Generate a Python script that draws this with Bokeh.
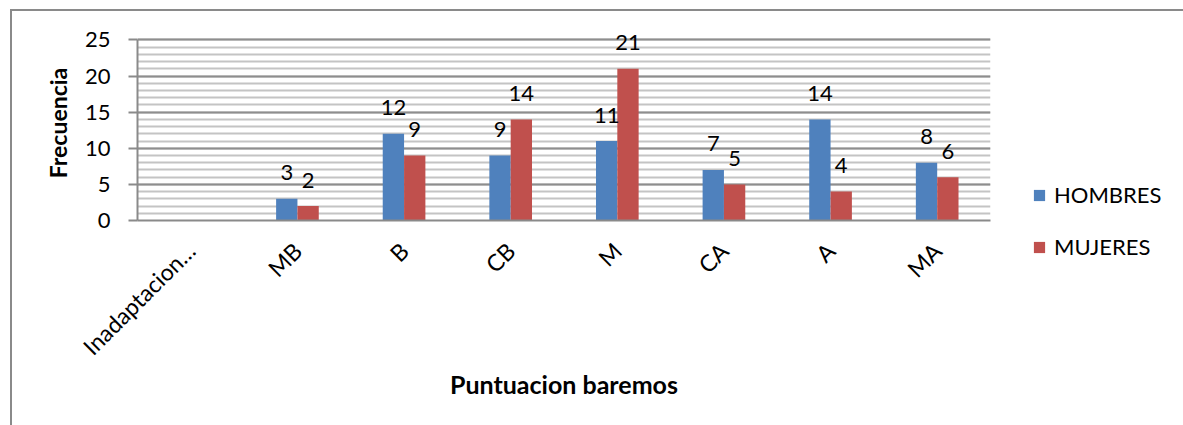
import math
from bokeh.plotting import figure
from bokeh.layouts import row
from bokeh.models import (ColumnDataSource, FactorRange, Range1d, SingleIntervalTicker,
                          LabelSet, Legend, LegendItem)
from bokeh.core.properties import value
from bokeh.transform import dodge
from bokeh.embed import file_html
from bokeh.resources import INLINE

categories = ["Inadaptacion…", "MB", "B", "CB", "M", "CA", "A", "MA"]
hombres = [None, 3, 12, 9, 11, 7, 14, 8]
mujeres = [None, 2, 9, 14, 21, 5, 4, 6]
series_names = ["HOMBRES", "MUJERES"]
colors = ["#4F81BD", "#C0504D"]
y_max = 25

FONT = "Lato"
H = 414

p = figure(x_range=FactorRange(*categories, range_padding=0), y_range=Range1d(0, 27),
           width=988, height=H, output_backend="svg", toolbar_location=None,
           min_border_left=125, min_border_top=14, min_border_bottom=205, min_border_right=10)
p.x_range.range_padding = 0
p.outline_line_color = None

offsets = [-0.1, 0.1]
renderers = []
for vals, off, col in zip([hombres, mujeres], offsets, colors):
    src = ColumnDataSource(dict(cat=categories, v=[float("nan") if v is None else v for v in vals]))
    r = p.vbar(x=dodge("cat", off, range=p.x_range), top="v", width=0.2, source=src,
               fill_color=col, line_color=None)
    renderers.append(r)
    lsrc = ColumnDataSource(dict(cat=[c for c, v in zip(categories, vals) if v is not None],
                                 v=[v for v in vals if v is not None],
                                 t=[str(v) for v in vals if v is not None]))
    labels = LabelSet(x=dodge("cat", off, range=p.x_range), y="v", text="t", source=lsrc,
                      text_align="center", text_baseline="middle", y_offset=26,
                      text_font=value(FONT), text_font_size=value("22px"), text_color="#000000")
    p.add_layout(labels)

# axes
p.yaxis.ticker = SingleIntervalTicker(interval=5, num_minor_ticks=5)
p.yaxis.bounds = (0, y_max)
p.yaxis.axis_line_color = "#8a8a8a"
p.yaxis.axis_line_width = 2
p.yaxis.major_tick_line_color = "#8a8a8a"
p.yaxis.major_tick_line_width = 2
p.yaxis.major_tick_out = 9
p.yaxis.major_tick_in = 0
p.yaxis.minor_tick_out = 0
p.yaxis.minor_tick_in = 0
p.yaxis.major_label_standoff = 18
p.yaxis.major_label_text_font = FONT
p.yaxis.major_label_text_font_size = "22px"
p.yaxis.major_label_text_color = "#000000"
p.yaxis.axis_label = "Frecuencia"
p.yaxis.axis_label_text_font = FONT
p.yaxis.axis_label_text_font_style = "bold"
p.yaxis.axis_label_text_font_size = "23px"
p.yaxis.axis_label_text_color = "#000000"
p.yaxis.axis_label_standoff = 10

p.xaxis.axis_line_color = "#8a8a8a"
p.xaxis.axis_line_width = 2
p.xaxis.major_tick_line_color = None
p.xaxis.minor_tick_line_color = None
p.xaxis.major_label_orientation = math.pi / 4
p.xaxis.major_label_standoff = 20
p.xaxis.major_label_text_font = FONT
p.xaxis.major_label_text_font_size = "23px"
p.xaxis.major_label_text_color = "#000000"
p.xaxis.axis_label = "Puntuacion baremos"
p.xaxis.axis_label_text_font = FONT
p.xaxis.axis_label_text_font_style = "bold"
p.xaxis.axis_label_text_font_size = "25px"
p.xaxis.axis_label_text_color = "#000000"
p.xaxis.axis_label_standoff = -4

# grid
p.xgrid.grid_line_color = None
p.ygrid.bounds = (0, y_max)
p.ygrid.grid_line_color = "#8e8e8e"
p.ygrid.grid_line_width = 2
p.ygrid.minor_grid_line_color = "#c4c4c4"
p.ygrid.minor_grid_line_width = 2

# legend panel (a separate figure to the right)
pl = figure(width=183, height=H, output_backend="svg", toolbar_location=None,
            x_range=Range1d(0, 1), y_range=Range1d(0, 1),
            x_axis_location=None, y_axis_location=None,
            min_border=0, min_border_left=0, min_border_right=0, min_border_top=0, min_border_bottom=0)
pl.outline_line_color = None
pl.xgrid.visible = False
pl.ygrid.visible = False
pl.frame_align = False
p.frame_align = False
leg_renderers = []
for c in colors:
    lr = pl.vbar(x=[0.5], top=[0.5], width=0.1, fill_color=c, line_color=None)
    lr.visible = False
    leg_renderers.append(lr)
legend = Legend(items=[LegendItem(label=n, renderers=[r]) for n, r in zip(series_names, leg_renderers)],
                location=(32, 165), orientation="vertical", border_line_color=None,
                background_fill_alpha=0, padding=0, margin=0, spacing=25,
                glyph_width=14, glyph_height=14, label_height=24, label_standoff=8,
                label_text_font=FONT, label_text_font_size="22px", label_text_color="#000000")
pl.add_layout(legend)

layout = row(p, pl)
layout.margin = (9, 0, 0, 10)
layout.styles = {"border-left": "2px solid #8a8a8a", "border-top": "2px solid #8a8a8a"}

open("out.html", "w").write(file_html(layout, INLINE))
